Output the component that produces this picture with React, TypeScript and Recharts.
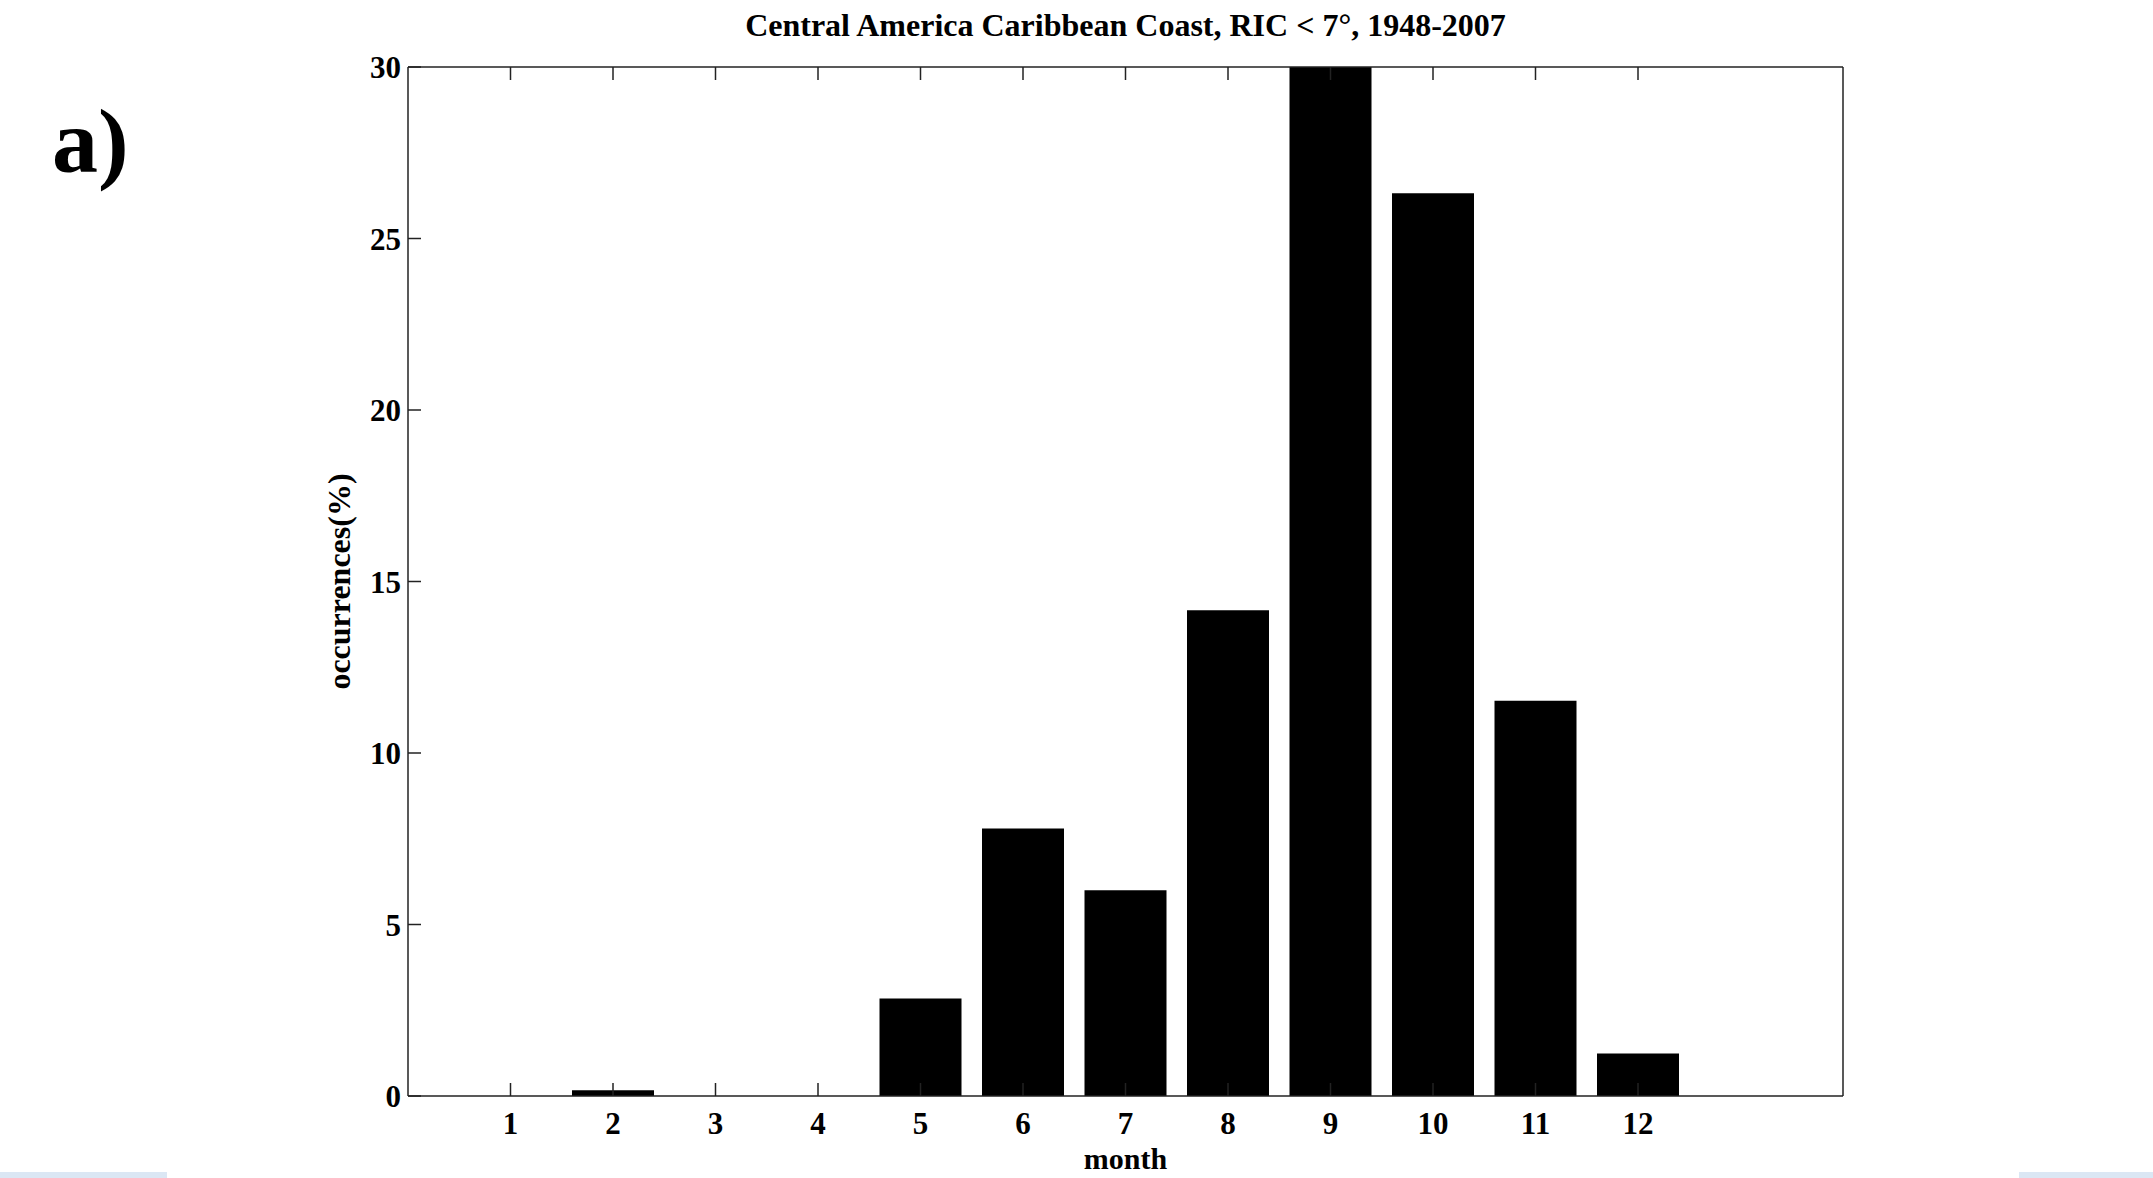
import React from 'react';
import { BarChart, Bar, XAxis, YAxis, Label } from 'recharts';

const months = ['1', '2', '3', '4', '5', '6', '7', '8', '9', '10', '11', '12'];
const occurrences = [0, 0.17, 0, 0, 2.84, 7.8, 6.0, 14.16, 30, 26.32, 11.52, 1.24];
const yTicks = [0, 5, 10, 15, 20, 25, 30];
const titleText = 'Central America Caribbean Coast, RIC < 7\u00b0, 1948-2007';
const xLabel = 'month';
const yLabel = 'occurrences(%)';
const panelLabel = 'a)';

const data = months.map((m, i) => ({ month: m, value: occurrences[i] }));

const FONT = '"Liberation Serif", "Times New Roman", serif';
const AXIS = '#222';
const TICK_LEN = 13;
const FS = 31;

const BottomTick = (props: any) => {
  const { x, y, payload } = props;
  return (
    <g>
      <line x1={x} y1={y} x2={x} y2={y - TICK_LEN} stroke={AXIS} strokeWidth={1.5} />
      <text x={x} y={y + 38} textAnchor="middle" fontFamily={FONT} fontWeight="bold" fontSize={FS} fill="#000">
        {payload.value}
      </text>
    </g>
  );
};

const TopTick = (props: any) => {
  const { x, y } = props;
  return <line x1={x} y1={y} x2={x} y2={y + TICK_LEN} stroke={AXIS} strokeWidth={1.5} />;
};

const LeftTick = (props: any) => {
  const { x, y, payload } = props;
  return (
    <g>
      <line x1={x} y1={y} x2={x + TICK_LEN} y2={y} stroke={AXIS} strokeWidth={1.5} />
      <text x={x - 7} y={y + 11} textAnchor="end" fontFamily={FONT} fontWeight="bold" fontSize={FS} fill="#000">
        {payload.value}
      </text>
    </g>
  );
};

const RightTick = (props: any) => {
  const { x, y } = props;
  return <line x1={x} y1={y} x2={x - TICK_LEN} y2={y} stroke={AXIS} strokeWidth={1.5} />;
};

const YLabelContent = (props: any) => {
  const { viewBox } = props;
  const cx = viewBox.x + viewBox.width - 58;
  const cy = viewBox.y + viewBox.height / 2;
  return (
    <text
      x={cx}
      y={cy}
      transform={`rotate(-90, ${cx}, ${cy})`}
      textAnchor="middle"
      fontFamily={FONT}
      fontWeight="bold"
      fontSize={32}
      fill="#000"
    >
      {yLabel}
    </text>
  );
};

const XLabelContent = (props: any) => {
  const { viewBox } = props;
  const cx = viewBox.x + viewBox.width / 2;
  return (
    <text x={cx} y={viewBox.y + 73} textAnchor="middle" fontFamily={FONT} fontWeight="bold" fontSize={30} fill="#000">
      {xLabel}
    </text>
  );
};

export default function App() {
  const W = 2153;
  const H = 1178;
  const plotLeft = 408;
  const plotRight = 1843;
  const plotTop = 67;
  const plotBottom = 1096;
  const unit = (plotRight - plotLeft) / 14;
  const yAxisW = 80;
  const xAxisH = 60;
  return (
    <div style={{ position: 'absolute', left: 0, top: 0, width: W, height: H, background: '#fff', overflow: 'hidden' }}>
      <BarChart
        width={W}
        height={H}
        data={data}
        barCategoryGap="10%"
        margin={{ top: plotTop - 1, left: plotLeft - yAxisW, right: W - plotRight - 1, bottom: H - plotBottom - xAxisH }}
      >
        <XAxis
          dataKey="month"
          height={xAxisH}
          interval={0}
          tickSize={0}
          tickMargin={0}
          padding={{ left: unit * 0.5, right: unit * 1.5 }}
          axisLine={{ stroke: AXIS, strokeWidth: 1.5 }}
          tick={<BottomTick />}
        >
          <Label content={<XLabelContent />} />
        </XAxis>
        <XAxis
          xAxisId="top"
          orientation="top"
          dataKey="month"
          height={1}
          interval={0}
          tickSize={0}
          tickMargin={0}
          padding={{ left: unit * 0.5, right: unit * 1.5 }}
          axisLine={{ stroke: AXIS, strokeWidth: 1.5 }}
          tick={<TopTick />}
        />
        <YAxis
          width={yAxisW}
          domain={[0, 30]}
          ticks={yTicks}
          interval={0}
          tickSize={0}
          tickMargin={0}
          axisLine={{ stroke: AXIS, strokeWidth: 1.5 }}
          tick={<LeftTick />}
        >
          <Label content={<YLabelContent />} />
        </YAxis>
        <YAxis
          yAxisId="right"
          orientation="right"
          width={1}
          domain={[0, 30]}
          ticks={yTicks}
          interval={0}
          tickSize={0}
          tickMargin={0}
          axisLine={{ stroke: AXIS, strokeWidth: 1.5 }}
          tick={<RightTick />}
        />
        <Bar dataKey="value" fill="#000" isAnimationActive={false} />
      </BarChart>
      <svg width={W} height={H} style={{ position: 'absolute', left: 0, top: 0, pointerEvents: 'none' }}>
        <text x={(plotLeft + plotRight) / 2} y={36} textAnchor="middle" fontFamily={FONT} fontWeight="bold" fontSize={32} fill="#000">
          {titleText}
        </text>
        <text x={52} y={172} fontFamily={FONT} fontWeight="bold" fontSize={92} fill="#000">
          {panelLabel}
        </text>
      </svg>
      <div style={{ position: 'absolute', left: 0, top: 1172, width: 167, height: 6, background: '#dbe7f4' }} />
      <div style={{ position: 'absolute', left: 2019, top: 1172, width: 134, height: 6, background: '#dbe7f4' }} />
    </div>
  );
}
